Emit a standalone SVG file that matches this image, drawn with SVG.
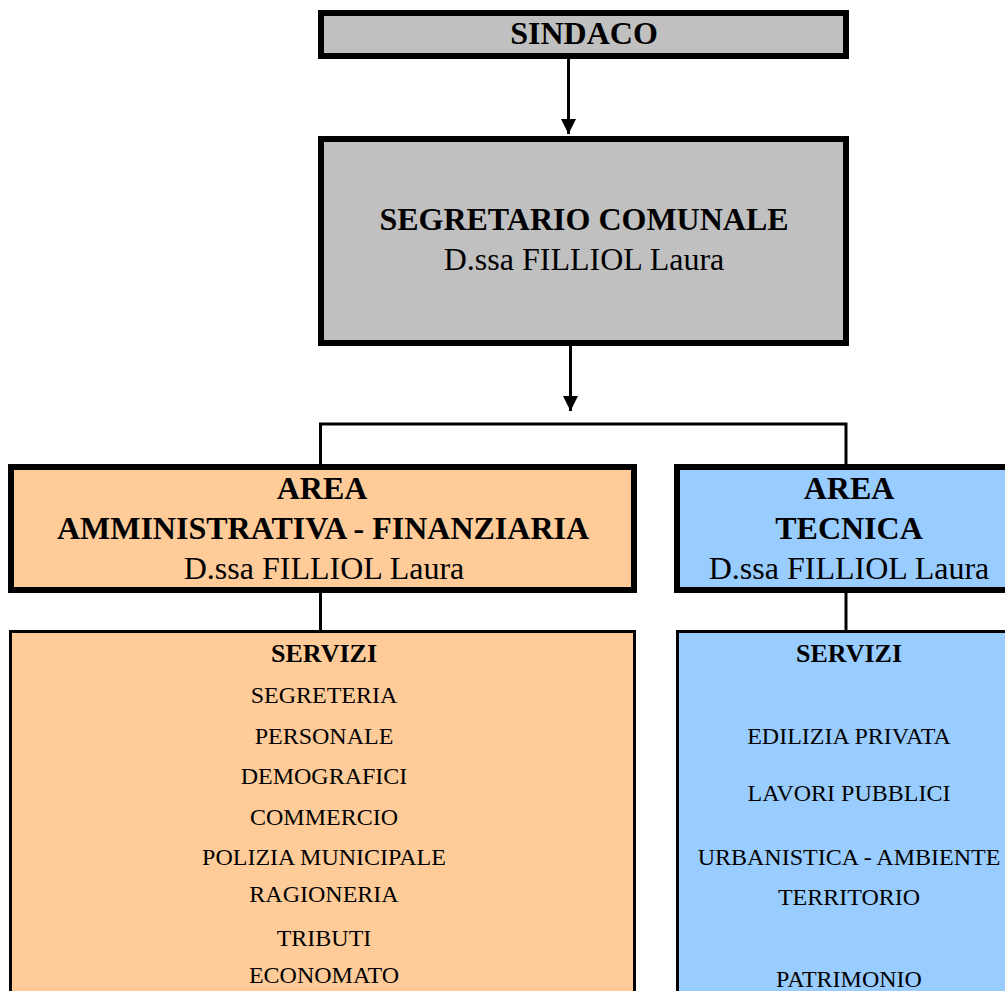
<svg xmlns="http://www.w3.org/2000/svg" width="1005" height="991" viewBox="0 0 1005 991">
<style>
  text { font-family: "Liberation Serif", "Times New Roman", serif; fill: #000; text-anchor: middle; }
  .b32 { font-size: 32px; font-weight: bold; }
  .r32 { font-size: 32px; }
  .b26 { font-size: 26px; font-weight: bold; }
  .r24 { font-size: 24px; }
  .thick { stroke: #000; stroke-width: 6; }
  .thin { stroke: #000; stroke-width: 3; }
  .grey { fill: #C0C0C0; }
  .peach { fill: #FFCC99; }
  .blue { fill: #99CCFF; }
  .conn { stroke: #000; stroke-width: 3; fill: none; }
</style>
<defs>
  <marker id="arrow" markerUnits="userSpaceOnUse" markerWidth="16" markerHeight="16" refX="15" refY="8" orient="auto">
    <path d="M0,0.5 L15,8 L0,15.5 z" fill="#000"/>
  </marker>
</defs>
<rect width="1005" height="991" fill="#fff"/>

<g id="connectors">
  <line class="conn" x1="568.5" y1="59" x2="568.5" y2="134" marker-end="url(#arrow)"/>
  <line class="conn" x1="570.5" y1="346" x2="570.5" y2="411" marker-end="url(#arrow)"/>
  <polyline class="conn" points="320.5,464 320.5,424 846,424 846,464"/>
  <line class="conn" x1="320.5" y1="593" x2="320.5" y2="630"/>
  <line class="conn" x1="846" y1="593" x2="846" y2="630"/>
</g>

<g id="sindaco">
  <rect class="grey thick" x="321" y="13" width="525" height="43"/>
  <text class="b32" x="584" y="44">SINDACO</text>
</g>

<g id="segretario">
  <rect class="grey thick" x="321" y="139" width="525" height="204"/>
  <text class="b32" x="584" y="230">SEGRETARIO COMUNALE</text>
  <text class="r32" x="584" y="270">D.ssa FILLIOL Laura</text>
</g>

<g id="area-amministrativa">
  <rect class="peach thick" x="11" y="467" width="623" height="123"/>
  <text class="b32" x="322" y="499">AREA</text>
  <text class="b32" x="323" y="539">AMMINISTRATIVA - FINANZIARIA</text>
  <text class="r32" x="324" y="579">D.ssa FILLIOL Laura</text>
</g>

<g id="area-tecnica">
  <rect class="blue thick" x="677" y="467" width="344" height="123"/>
  <text class="b32" x="849" y="499">AREA</text>
  <text class="b32" x="849" y="539">TECNICA</text>
  <text class="r32" x="849" y="579">D.ssa FILLIOL Laura</text>
</g>

<g id="servizi-amministrativa">
  <rect class="peach thin" x="10.5" y="631.5" width="624" height="400"/>
  <text class="b26" x="324" y="662">SERVIZI</text>
  <text class="r24" x="324" y="703">SEGRETERIA</text>
  <text class="r24" x="324" y="744">PERSONALE</text>
  <text class="r24" x="324" y="784">DEMOGRAFICI</text>
  <text class="r24" x="324" y="825">COMMERCIO</text>
  <text class="r24" x="324" y="865">POLIZIA MUNICIPALE</text>
  <text class="r24" x="324" y="902">RAGIONERIA</text>
  <text class="r24" x="324" y="946">TRIBUTI</text>
  <text class="r24" x="324" y="983">ECONOMATO</text>
</g>

<g id="servizi-tecnica">
  <rect class="blue thin" x="677.5" y="631.5" width="400" height="400"/>
  <text class="b26" x="849" y="662">SERVIZI</text>
  <text class="r24" x="849" y="744">EDILIZIA PRIVATA</text>
  <text class="r24" x="849" y="801">LAVORI PUBBLICI</text>
  <text class="r24" x="849" y="865">URBANISTICA - AMBIENTE</text>
  <text class="r24" x="849" y="905">TERRITORIO</text>
  <text class="r24" x="849" y="987">PATRIMONIO</text>
</g>
</svg>
